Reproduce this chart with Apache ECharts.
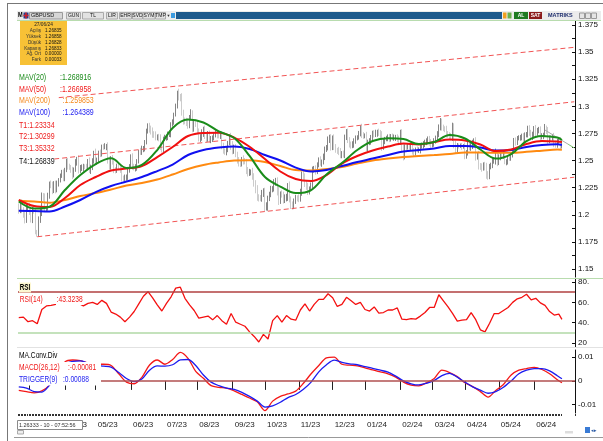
<!DOCTYPE html>
<html>
<head>
<meta charset="utf-8">
<title>GBPUSD</title>
<script src="https://cdn.jsdelivr.net/npm/echarts@6/dist/echarts.min.js"></script>
<style>
html,body{margin:0;padding:0;background:#fff;}
#chart{width:603px;height:441px;}
</style>
</head>
<body>
<div id="chart"></div>
<script>
var FONT = "'Liberation Sans',Arial,sans-serif";
var lastBar = 353;
var nCats = 362;

// daily closes in pips (12040 = 1.2040), 20/02/23 .. 27/06/24
var firstOpen = 12070;
var closes = [
  12040,12112,12050,12003,11945, 12065,12082,12033,11953,12037, 12035,11840,11829,11950,12028,
  12175,12157,12059,12062,12178, 12286,12270,12230,12285,12232, 12290,12318,12365,12389,12339,
  12418,12493,12451,12444,12412, 12369,12416,12488,12514,12411, 12434,12434,12450,12445,12442,
  12494,12411,12432,12496,12575, 12495,12502,12571,12562,12632, 12624,12625,12628,12507,12447,
  12521,12488,12419,12411,12446, 12432,12416,12341,12337,12346, 12346,12408,12452,12527,12445,
  12434,12436,12493,12582,12577, 12607,12609,12669,12779,12818, 12787,12765,12745,12739,12711,
  12716,12707,12631,12603,12700, 12708,12718,12742,12744,12838, 12860,12926,13005,13132,13089,
  13076,12939,12871,12864,12853, 12823,12900,12933,12796,12847, 12835,12771,12711,12713,12748,
  12787,12724,12703,12747,12690, 12696,12706,12738,12753,12734, 12729,12737,12639,12593,12578,
  12602,12661,12715,12634,12587, 12622,12561,12507,12475,12465, 12513,12493,12490,12410,12383,
  12393,12393,12348,12294,12238, 12159,12157,12150,12199,12204, 12074,12085,12151,12192,12237,
  12239,12298,12305,12213,12130, 12190,12183,12138,12148,12163, 12262,12144,12093,12082,12125,
  12154,12153,12151,12200,12379, 12342,12286,12265,12212,12236, 12268,12419,12420,12405,12463,
  12504,12472,12489,12534,12604, 12623,12697,12703,12621,12711, 12627,12597,12596,12580,12546,
  12562,12557,12719,12755,12686, 12650,12634,12643,12685,12706, 12718,12753,12799,12732,12730,
  12730,12618,12667,12676,12716, 12750,12737,12749,12764,12752, 12731,12629,12676,12698,12703,
  12711,12700,12724,12707,12710, 12712,12694,12676,12744,12629, 12541,12625,12621,12627,12626,
  12632,12590,12571,12600,12596, 12596,12630,12635,12654,12672, 12685,12697,12673,12647,12652,
  12686,12705,12741,12808,12857, 12806,12796,12791,12747,12736, 12724,12716,12804,12653,12598,
  12637,12636,12637,12624,12636, 12547,12571,12652,12624,12636, 12666,12685,12539,12554,12452,
  12444,12432,12463,12439,12372, 12353,12449,12455,12491,12493, 12565,12493,12532,12548,12547,
  12561,12491,12493,12526,12523, 12558,12585,12683,12668,12706, 12708,12716,12723,12698,12739,
  12743,12796,12763,12714,12741, 12798,12759,12776,12790,12720, 12727,12736,12797,12779,12685,
  12710,12708,12725,12658,12648, 12680,12687,12632,12640
];
// wick beyond the body, pips
var hiWick = [
  35,25,30,20,30, 40,20,25,30,35, 45,25,20,35,40, 30,25,40,20,25, 20,30,35,25,30, 25,20,15,25,30,
  15,25,30,20,15, 30,20,25,20,35, 25,30,20,15,25, 20,35,30,25,15, 35,25,20,30,15, 20,35,25,40,30,
  20,30,25,20,25, 30,25,35,20,25, 25,20,15,30,40, 25,30,20,15,35, 30,25,20,15,25, 30,35,40,25,30,
  25,30,35,25,20, 30,20,25,30,15, 20,15,20,12,30, 25,45,30,25,30, 35,20,40,30,25, 30,35,25,30,40,
  25,35,30,25,30, 30,25,20,25,30, 25,30,35,25,20, 30,20,25,40,45, 25,30,20,25,30, 20,35,30,25,30,
  30,25,40,35,25, 35,30,25,30,40, 45,30,25,20,30, 25,30,35,40,45, 25,35,30,40,30, 30,45,25,30,25,
  30,25,35,40,20, 30,40,25,30,25, 30,25,30,35,20, 25,35,20,30,25, 20,25,35,40,20, 30,25,20,30,35,
  25,30,20,35,40, 30,25,35,20,25, 15,20,25,40,30, 20,35,25,30,20, 25,30,35,20,30, 30,40,25,20,25,
  30,35,20,25,30, 25,30,35,40,45, 30,25,20,25,30, 35,40,25,20,30, 25,20,30,25,20, 20,25,30,25,20,
  20,25,30,25,35, 30,25,20,30,25, 25,30,45,40,30, 25,20,20,25,15, 30,25,20,35,30, 25,20,30,25,35,
  25,30,20,25,40, 30,20,25,30,35, 45,30,25,20,35, 25,30,20,25,30, 20,25,25,30,20, 25,20,25,30,20,
  20,25,30,20,25, 20,30,25,20,25, 25,20,40,25,30, 20,25,20,30,25, 20,25,30,40
];
var loWick = [
  30,25,35,30,25, 20,30,35,25,30, 25,20,32,30,25, 40,30,35,30,25, 30,25,40,30,35, 25,30,20,25,30,
  30,25,35,30,25, 40,25,20,35,30, 25,30,35,25,20, 30,25,35,20,25, 30,35,25,30,25, 25,20,30,35,30,
  30,25,35,30,25, 20,30,35,30,25, 30,25,20,25,30, 25,35,30,20,25, 25,30,25,20,30, 30,25,35,30,25,
  25,30,35,30,25, 20,25,30,25,30, 25,30,20,25,35, 30,25,40,30,35, 30,25,30,35,30, 25,30,35,40,30,
  30,25,35,30,25, 30,25,20,25,30, 25,30,35,30,25, 30,25,20,35,30, 25,30,35,30,25, 20,30,25,35,30,
  25,30,25,35,40, 30,35,25,30,35, 40,35,48,25,30, 30,25,30,35,40, 30,25,35,30,25, 35,30,40,35,30,
  25,30,35,30,25, 25,30,35,30,25, 20,25,30,35,30, 25,20,30,25,30, 25,30,35,30,25, 30,25,35,30,25,
  25,30,35,30,25, 30,25,20,25,30, 20,25,30,25,30, 25,30,35,25,30, 30,25,20,30,25, 25,40,30,25,20,
  25,30,25,20,25, 30,25,35,30,40, 40,30,25,20,25, 30,35,30,25,20, 25,30,20,25,30, 30,25,35,30,25,
  25,30,20,25,30, 30,25,30,35,25, 25,30,35,40,30, 20,25,20,25,15, 35,30,25,30,35, 30,25,40,30,35,
  30,35,25,30,40, 30,25,30,25,20, 30,45,35,30,25, 30,25,35,30,25, 25,30,20,30,25, 20,25,30,35,25,
  25,30,35,30,25, 25,35,30,25,40, 25,30,20,35,40, 25,30,25,35,30, 30,25,30,20
];

// moving averages every 10 bars (last point = last bar)
var maStep = 10;
var mav20 = [1.2122,1.2057,1.2074,1.2228,1.2366,1.2468,1.2520,1.2431,1.2459,1.2597,1.2800,1.2878,1.2851,1.2768,1.2708,1.2542,1.2348,1.2260,1.2200,1.2228,1.2371,1.2477,1.2597,1.2680,1.2705,1.2698,1.2652,1.2671,1.2735,1.2703,1.2602,1.2518,1.2560,1.2680,1.2726,1.2712,1.2689];
var mav50 = [1.2136,1.2080,1.2071,1.2154,1.2274,1.2348,1.2408,1.2426,1.2449,1.2532,1.2625,1.2726,1.2754,1.2756,1.2712,1.2627,1.2514,1.2399,1.2329,1.2311,1.2366,1.2472,1.2542,1.2592,1.2629,1.2657,1.2648,1.2671,1.2694,1.2685,1.2648,1.2588,1.2602,1.2652,1.2680,1.2675,1.2670];
var mav100 = [1.2037,1.2034,1.2030,1.2076,1.2136,1.2209,1.2265,1.2306,1.2348,1.2403,1.2463,1.2551,1.2597,1.2620,1.2629,1.2606,1.2551,1.2500,1.2435,1.2399,1.2412,1.2449,1.2486,1.2518,1.2551,1.2583,1.2597,1.2611,1.2634,1.2634,1.2620,1.2592,1.2597,1.2625,1.2643,1.2650,1.2644];
var mav200 = [1.2129,1.2122,1.2111,1.2136,1.2173,1.2200,1.2233,1.2269,1.2292,1.2325,1.2371,1.2422,1.2459,1.2482,1.2500,1.2502,1.2486,1.2449,1.2412,1.2408,1.2422,1.2440,1.2472,1.2500,1.2518,1.2532,1.2542,1.2551,1.2560,1.2574,1.2573,1.2572,1.2572,1.2580,1.2591,1.2602,1.2599];

// trend lines [bar, price]
var trendT1 = [[12, 1.1797], [361, 1.2346]];
var trendT2 = [[23, 1.2514], [361, 1.3042]];
var trendT3 = [[26, 1.3080], [361, 1.3544]];
var trendT4 = [[342, 1.2781], [357, 1.2651]];
var trendT4b = [[357, 1.2651], [361, 1.2616]];

// RSI(14) every 3 bars
var rsiStep = 3;
var rsi14 = [
  45,45.5,41,42,39,53,56.5,57,58,60,
  58,62,58,59,56.5,59,60,58,62,59,
  50.5,48.5,45.5,41,45.5,51,58.5,66,70.5,64.5,
  57.5,51.5,59,65.5,74,75,64,57.5,52,44.5,
  45.5,46.5,42.8,47,42,38.5,49,40.5,38.5,36.5,
  31,26.5,21,28.5,24,42,47,40.5,47,43.5,
  42.5,52.5,58.5,51.5,58,63,63,68.5,64.5,56,
  58,65,61.5,58,60,53,51.5,55.5,49.5,50,
  52.5,52.5,54.5,43.5,43,44,43.5,46.5,50,55,
  55,67.5,61.5,55.5,49,41.5,42.5,43,50,43,
  33,31,39.5,49,49,52,55,60,63.5,65,
  68,62.5,64,59.5,57,51,47.5,48.5,
  43.3
];

// MACD(26,12) and trigger(9) every 5 bars
var macdStep = 5;
var macd = [-0.0040,-0.0045,-0.0050,-0.0042,-0.0018,0.0030,0.0080,0.0088,0.0085,0.0075,0.0070,0.0070,0.0065,0.0030,-0.0005,-0.0012,0.0015,0.0067,0.0088,0.0070,0.0090,0.0120,0.0095,0.0040,0.0011,-0.0020,-0.0027,-0.0030,-0.0042,-0.0057,-0.0072,-0.0088,-0.0125,-0.0085,-0.0065,-0.0055,-0.0043,-0.0010,0.0030,0.0065,0.0097,0.0100,0.0070,0.0066,0.0063,0.0055,0.0046,0.0038,0.0030,0.0016,-0.0005,-0.0018,-0.0021,-0.0008,0.0010,0.0045,0.0035,0.0018,-0.0008,-0.0024,-0.0045,-0.0068,-0.0040,-0.0015,0.0025,0.0045,0.0052,0.0057,0.0048,0.0030,0.0005,-0.0008];
var trigger = [-0.0025,-0.0030,-0.0045,-0.0047,-0.0018,0.0025,0.0070,0.0082,0.0084,0.0075,0.0066,0.0062,0.0058,0.0035,0.0010,-0.0003,0.0008,0.0045,0.0063,0.0062,0.0068,0.0088,0.0090,0.0065,0.0025,-0.0005,-0.0020,-0.0030,-0.0036,-0.0048,-0.0065,-0.0085,-0.0110,-0.0105,-0.0090,-0.0070,-0.0057,-0.0035,-0.0005,0.0038,0.0068,0.0087,0.0078,0.0072,0.0068,0.0060,0.0053,0.0045,0.0037,0.0020,0.0000,-0.0012,-0.0017,-0.0010,0.0002,0.0022,0.0032,0.0016,-0.0005,-0.0025,-0.0039,-0.0052,-0.0045,-0.0027,0.0000,0.0030,0.0045,0.0052,0.0052,0.0042,0.0022,0.0009];

// axis ticks
var priceLabels = [1.15,1.175,1.2,1.225,1.25,1.275,1.3,1.325,1.35,1.375];
var priceTicks = [1.15,1.1625,1.175,1.1875,1.2,1.2125,1.225,1.2375,1.25,1.2625,1.275,1.2875,1.3,1.3125,1.325,1.3375,1.35,1.3625,1.375];
var rsiLabels = [20,40,60,80];
var macdLabels = [-0.01,0,0.01];

var pad = function (n) { return n < 10 ? '0' + n : '' + n; };

// weekday categories from Mon 20/02/2023
var cats = [];
(function () {
	var d = new Date(2023, 1, 20);
	while (cats.length < nCats) {
		var wd = d.getDay();
		if (wd !== 0 && wd !== 6) {
			cats.push(d.getFullYear() + '-' + pad(d.getMonth() + 1) + '-' + pad(d.getDate()));
		}
		d.setDate(d.getDate() + 1);
	}
})();

var isMonthStart = function (i) {
	return i > 0 && i <= lastBar && cats[i].slice(5, 7) !== cats[i - 1].slice(5, 7);
};

var stepPairs = function (vals, step) {
	return vals.map(function (v, k) {
		return [k === vals.length - 1 ? lastBar : k * step, v];
	});
};

var ohlc = closes.map(function (c, i) {
	var o = i === 0 ? firstOpen : closes[i - 1];
	var hi = Math.max(o, c) + hiWick[i];
	var lo = Math.min(o, c) - loWick[i];
	return [o / 1e4, c / 1e4, lo / 1e4, hi / 1e4];
});

// ---- graphic helpers (texts squeezed horizontally like the terminal font)
var txt = function (x, y, s, color, size, extra) {
	extra = extra || {};
	var st = {
		text: s, x: 0, y: 0, fill: color,
		font: (extra.bold ? 'bold ' : '') + size + 'px ' + FONT,
		verticalAlign: 'middle', align: extra.align || 'left'
	};
	if (extra.bg) { st.backgroundColor = extra.bg; st.padding = [1, 1, 0, 1]; }
	return { type: 'text', z: 100, silent: true, x: x, y: y, scaleX: extra.sx || 1, style: st };
};
var box = function (x, y, w, h, fill, stroke) {
	return { type: 'rect', z: 90, silent: true, shape: { x: x, y: y, width: w, height: h },
		style: { fill: fill, stroke: stroke || null, lineWidth: 1 } };
};
var seg = function (x1, y1, x2, y2, color, w) {
	return { type: 'line', z: 90, silent: true, shape: { x1: x1, y1: y1, x2: x2, y2: y2 },
		style: { stroke: color, lineWidth: w || 1 } };
};

var SQ = 0.74;
var graphics = [
	// window frame
	seg(7, 3.5, 603, 3.5, '#777'),
	seg(7.5, 3, 7.5, 441, '#777'),
	seg(14, 437.5, 603, 437.5, '#999'),
	// toolbar
	box(17, 11, 584, 9, '#ececec'),
	txt(18, 15.5, 'M', '#000', 7, { bold: true, sx: 0.8 }),
	box(23.5, 12.5, 5, 6, '#23408e'),
	seg(23.5, 15.5, 28.5, 15.5, '#d0202a', 1.5),
	seg(26, 12.5, 26, 18.5, '#d0202a', 1.5),
	box(29.5, 12.5, 33, 6.5, '#d6d6d6', '#9a9a9a'),
	txt(31, 15.8, 'GBPUSD', '#111', 5.5),
	box(66.5, 12.5, 14, 6.5, '#e2e2e2', '#aaa'), txt(73.5, 15.8, 'GUN', '#111', 5, { align: 'center' }),
	box(82.5, 12.5, 21, 6.5, '#e2e2e2', '#aaa'), txt(93, 15.8, 'TL', '#111', 5, { align: 'center' }),
	box(106.5, 12.5, 11, 6.5, '#e2e2e2', '#aaa'), txt(112, 15.8, 'LIR', '#111', 5, { align: 'center' }),
	box(119.5, 12.5, 12, 6.5, '#e2e2e2', '#aaa'), txt(125.5, 15.8, 'EHR', '#111', 5, { align: 'center' }),
	box(132.5, 12.5, 10, 6.5, '#e2e2e2', '#aaa'), txt(137.5, 15.8, 'SVD', '#111', 5, { align: 'center' }),
	box(143, 12.5, 12, 6.5, '#e2e2e2', '#aaa'), txt(149, 15.8, 'SYM', '#111', 5, { align: 'center' }),
	box(155.5, 12.5, 10, 6.5, '#e2e2e2', '#aaa'), txt(160.5, 15.8, 'TMP', '#111', 5, { align: 'center' }),
	txt(166.5, 15.5, '\u25BC', '#333', 4),
	box(171, 13, 4, 5, '#3b9be0'),
	box(176, 12, 326, 7, '#1d5a8c'),
	box(503, 12.5, 3.5, 6, '#f0a020'),
	box(507.5, 12.5, 4, 6, '#6ab04c'),
	box(514, 12, 14, 7, '#1f7a22'), txt(521, 15.8, 'AL', '#fff', 5, { align: 'center', bold: true }),
	box(529, 12, 13, 7, '#8c1c1c'), txt(535.5, 15.8, 'SAT', '#fff', 5, { align: 'center', bold: true }),
	txt(548, 15.8, 'MATRIKS', '#1c2c6c', 5.5, { bold: true }),
	box(579.5, 13, 5, 5.5, '#e4e4e4', '#999'),
	box(585.5, 13, 5, 5.5, '#e4e4e4', '#999'),
	box(591.5, 13, 5, 5.5, '#e4e4e4', '#999'),
	seg(17, 20.5, 601, 20.5, '#b8dcae'),
	// info box
	box(20, 21, 47, 44, '#f7c136'),
	txt(43.5, 25, '27/06/24', '#222', 4.8, { align: 'center' }),
	txt(41, 31, 'Açılış', '#333', 4.6, { align: 'right' }), txt(45, 31, '1.26835', '#111', 4.6),
	txt(41, 36.8, 'Yüksek', '#333', 4.6, { align: 'right' }), txt(45, 36.8, '1.26858', '#111', 4.6),
	txt(41, 42.6, 'Düşük', '#333', 4.6, { align: 'right' }), txt(45, 42.6, '1.26828', '#111', 4.6),
	txt(41, 48.4, 'Kapanış', '#333', 4.6, { align: 'right' }), txt(45, 48.4, '1.26833', '#111', 4.6),
	txt(41, 54.2, 'Ağ. Ort', '#333', 4.6, { align: 'right' }), txt(45, 54.2, '0.00000', '#111', 4.6),
	txt(41, 60, 'Fark', '#333', 4.6, { align: 'right' }), txt(45, 60, '0.00033', '#111', 4.6),
	// legend of main panel
	txt(19, 77.3, 'MAV(20)', '#1c8c1c', 9.5, { sx: SQ }), txt(60, 77.3, ':1.268916', '#1c8c1c', 9.5, { sx: SQ }),
	txt(19, 89, 'MAV(50)', '#f01818', 9.5, { sx: SQ }), txt(60, 89, ':1.266958', '#f01818', 9.5, { sx: SQ }),
	txt(19, 100.7, 'MAV(200)', '#f5891c', 9.5, { sx: SQ }), txt(62.5, 100.7, ':1.259853', '#f5891c', 9.5, { sx: SQ }),
	txt(19, 112.7, 'MAV(100)', '#1c1cf0', 9.5, { sx: SQ }), txt(62.5, 112.7, ':1.264389', '#1c1cf0', 9.5, { sx: SQ }),
	txt(19, 125, 'T1:1.23334', '#ee1c1c', 9.5, { sx: SQ }),
	txt(19, 136.7, 'T2:1.30299', '#ee1c1c', 9.5, { sx: SQ }),
	txt(19, 148.3, 'T3:1.35332', '#ee1c1c', 9.5, { sx: SQ }),
	txt(19, 161, 'T4:1.26839', '#111', 9.5, { sx: SQ }),
	// panel separators
	seg(17, 278.5, 603, 278.5, '#b8dcae'),
	seg(17, 347.5, 603, 347.5, '#e2e2e2'),
	// blank areas behind the indicator captions
	box(46, 294, 39, 10, '#fff'),
	box(17, 350, 46, 11, '#fff'),
	box(17, 362, 84, 23.5, '#fff'),
	// RSI panel labels
	txt(19, 287.5, 'RSI', '#000', 8.5, { bold: true, sx: SQ, bg: '#fdf7d0' }),
	txt(19, 300, 'RSI(14)', '#f01818', 9, { bg: '#fff', sx: SQ }),
	txt(56, 300, ':43.3238', '#f01818', 9, { bg: '#fff', sx: SQ }),
	// MACD panel labels
	txt(19, 356, 'MA.Conv.Div', '#000', 9, { sx: SQ }),
	txt(19, 368, 'MACD(26,12)', '#f01818', 9, { sx: SQ }),
	txt(68, 368, ':-0.00081', '#f01818', 9, { sx: SQ }),
	txt(19, 380, 'TRIGGER(9)', '#1c1cf0', 9, { sx: SQ }),
	txt(63, 380, ':0.00088', '#1c1cf0', 9, { sx: SQ }),
	// status box bottom left
	box(17.5, 420.5, 65, 9, '#fff', '#8a8a8a'),
	txt(19, 425.3, '1.26333 - 10 - 07:52:56', '#333', 6.2, { sx: 0.88 }),
	box(17.5, 430.5, 6, 3.5, '#eee', '#aaa'),
	// bottom right icons
	box(565, 431, 8, 2.5, '#ddd'),
	box(585, 427, 5, 6, '#3a7bd5'),
	txt(591, 430.5, '\u25C2\u25B8', '#2a5aa5', 5)
];

var chart = echarts.init(document.getElementById('chart'), null, { renderer: 'canvas' });

var xCat = function (grid, extra) {
	var a = { type: 'category', gridIndex: grid, data: cats, boundaryGap: true, show: false };
	for (var k in extra) { a[k] = extra[k]; }
	return a;
};
var yVal = function (grid, min, max, labels, ticks, fmt) {
	return {
		type: 'value', gridIndex: grid, position: 'right', min: min, max: max, scale: true,
		splitLine: { show: false },
		axisLine: { show: true, lineStyle: { color: '#111', width: 1 } },
		axisTick: { show: true, inside: true, length: 3, customValues: ticks, lineStyle: { color: '#111' } },
		axisLabel: { customValues: labels, margin: 3, color: '#111', fontSize: 8, fontFamily: FONT, formatter: fmt }
	};
};

var line = function (name, data, color, width, xi, extra) {
	var s = {
		name: name, type: 'line', data: data, xAxisIndex: xi, yAxisIndex: xi,
		symbol: 'none', silent: true, lineStyle: { color: color, width: width }
	};
	for (var k in extra) { s[k] = extra[k]; }
	return s;
};

chart.setOption({
	animation: false,
	backgroundColor: '#fff',
	grid: [
		{ left: 18, right: 28, top: 21.2, height: 255.9 },
		{ left: 18, right: 28, top: 279, height: 68.1 },
		{ left: 18, right: 28, top: 350, height: 63 }
	],
	xAxis: [
		xCat(0, {}),
		xCat(1, {}),
		xCat(2, {
			show: true, position: 'bottom', offset: 7,
			axisLine: { show: false },
			axisTick: { show: true, alignWithLabel: true, length: 9, interval: function (i) { return isMonthStart(i); }, lineStyle: { color: '#222' } },
			axisLabel: {
				show: true, interval: function (i) { return isMonthStart(i); }, align: 'left', margin: 1,
				padding: [0, 0, 0, 2], color: '#222', fontSize: 8, fontFamily: FONT,
				formatter: function (v) { return v.slice(5, 7) + '/' + v.slice(2, 4); }
			}
		}),
		xCat(2, {
			show: true, position: 'bottom', offset: 1,
			axisLine: { show: false }, axisLabel: { show: false },
			axisTick: { show: true, length: 2, interval: function (i) { return i <= lastBar; }, lineStyle: { color: '#333' } }
		})
	],
	yAxis: [
		yVal(0, 1.1425, 1.3785, priceLabels, priceTicks, function (v) { return String(v); }),
		yVal(1, 16, 83, rsiLabels, rsiLabels, function (v) { return v === 20 ? '20' : v + '.'; }),
		yVal(2, -0.0135, 0.013, macdLabels, macdLabels, function (v) { return v === 0 ? '0' : (v > 0 ? '0.01' : '-0.01'); })
	],
	series: [
		{
			name: 'GBPUSD', type: 'candlestick', data: ohlc, xAxisIndex: 0, yAxisIndex: 0,
			barWidth: 1, silent: true,
			itemStyle: { color: '#333', color0: '#a9a9a9', borderColor: '#333', borderColor0: '#a9a9a9', borderWidth: 0.6 }
		},
		line('T1', trendT1, '#f25555', 1, 0, { lineStyle: { color: '#f25555', width: 1, type: [5, 3] } }),
		line('T2', trendT2, '#f25555', 1, 0, { lineStyle: { color: '#f25555', width: 1, type: [5, 3] } }),
		line('T3', trendT3, '#f25555', 1, 0, { lineStyle: { color: '#f25555', width: 1, type: [5, 3] } }),
		line('T4', trendT4, '#aaaaaa', 1, 0),
		line('T4b', trendT4b, '#7cc46c', 1, 0),
		line('MAV(200)', stepPairs(mav200, maStep), '#ff8a10', 2, 0, { smooth: 0.35 }),
		line('MAV(100)', stepPairs(mav100, maStep), '#1010f0', 2, 0, { smooth: 0.35 }),
		line('MAV(50)', stepPairs(mav50, maStep), '#f01010', 2, 0, { smooth: 0.35 }),
		line('MAV(20)', stepPairs(mav20, maStep), '#1a8c1a', 2, 0, { smooth: 0.35 }),
		line('RSI(14)', stepPairs(rsi14, rsiStep), '#f41010', 1.3, 1, {
			markLine: {
				silent: true, symbol: 'none', label: { show: false },
				data: [
					{ yAxis: 70, lineStyle: { color: '#b04040', width: 1.5, type: 'solid' } },
					{ yAxis: 30, lineStyle: { color: '#b0d8a6', width: 1.5, type: 'solid' } }
				]
			}
		}),
		line('MACD(26,12)', stepPairs(macd, macdStep), '#f41818', 1.3, 2, {
			smooth: 0.3,
			markLine: {
				silent: true, symbol: 'none', label: { show: false },
				data: [{ yAxis: 0, lineStyle: { color: '#b05050', width: 1.5, type: 'solid' } }]
			}
		}),
		line('TRIGGER(9)', stepPairs(trigger, macdStep), '#1c1cf0', 1.3, 2, { smooth: 0.3 })
	],
	graphic: graphics
});
</script>
</body>
</html>
